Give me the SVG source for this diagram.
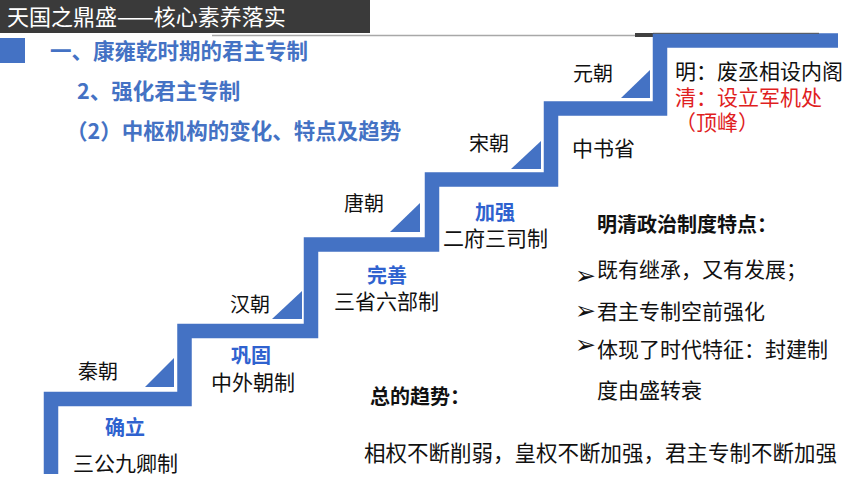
<svg xmlns="http://www.w3.org/2000/svg" width="860" height="484" viewBox="0 0 860 484">
<style>
text{font-family:"Noto Sans CJK SC","Noto Sans",sans-serif;}
.hd{fill:#4472C4;font-weight:bold;font-size:21.5px;}
.era{fill:#111;font-size:20px;}
.stg{fill:#2f62cf;font-weight:bold;font-size:20px;}
.sys{fill:#111;font-size:21px;}
.red{fill:#e01f1f;font-size:21px;}
.blk{fill:#111;font-size:21px;}
.bb{fill:#111;font-weight:bold;font-size:20px;}
.arw{fill:#111;font-family:"DejaVu Sans",sans-serif;font-size:25px;}
.tri{fill:#4472C4;}
</style>
<rect x="0" y="0" width="860" height="484" fill="#ffffff"/>
<g id="header">
<rect x="0" y="0" width="370" height="33" fill="#3a3a3a"/>
<line x1="212" y1="35.5" x2="636" y2="35.5" stroke="#a8a8a8" stroke-width="1.5"/>
<rect x="635" y="33" width="19" height="4" fill="#404040"/>
<text x="7" y="24.5" fill="#ffffff" style="font-size:22px">天国之鼎盛——核心素养落实</text>
</g>
<g id="titles">
<rect x="0" y="38" width="25" height="25" fill="#4472C4"/>
<text class="hd" x="50" y="59">一、康雍乾时期的君主专制</text>
<text class="hd" x="77" y="99">2、强化君主专制</text>
<text class="hd" x="66" y="139">（2）中枢机构的变化、特点及趋势</text>
</g>
<g id="connectors">
<path d="M51,474 V399 H184.5 V331 H311 V244.5 H432 V179.5 H551 V108.5 H660 V40.5 H838" fill="none" stroke="#4472C4" stroke-width="14.5" stroke-linejoin="miter"/>
<line x1="653" y1="33.3" x2="819" y2="33.3" stroke="#505050" stroke-width="1"/>
</g>
<g id="triangles">
<polygon class="tri" points="145,387 174,358 174,387"/>
<polygon class="tri" points="272,319 302,291 302,319"/>
<polygon class="tri" points="390,232 420,203 420,232"/>
<polygon class="tri" points="511,169 541,141 541,169"/>
<polygon class="tri" points="621,98 650,70 650,98"/>
</g>
<g id="qin">
<text class="era" x="78" y="379">秦朝</text>
<text class="stg" x="105" y="435">确立</text>
<text class="sys" x="73" y="471">三公九卿制</text>
</g>
<g id="han">
<text class="era" x="230" y="312">汉朝</text>
<text class="stg" x="231" y="363">巩固</text>
<text class="sys" x="211" y="390">中外朝制</text>
</g>
<g id="tang">
<text class="era" x="344" y="211">唐朝</text>
<text class="stg" x="367" y="283">完善</text>
<text class="sys" x="334" y="309">三省六部制</text>
</g>
<g id="song">
<text class="era" x="469" y="151">宋朝</text>
<text class="stg" x="475" y="220">加强</text>
<text class="sys" x="443" y="246">二府三司制</text>
</g>
<g id="yuan">
<text class="era" x="573" y="81">元朝</text>
<text class="sys" x="572" y="156">中书省</text>
</g>
<g id="mingqing">
<text class="blk" x="675" y="79">明：废丞相设内阁</text>
<text class="red" x="675" y="105">清：设立军机处</text>
<text class="red" x="675" y="130">（顶峰）</text>
</g>
<g id="features">
<text class="bb" x="597" y="232">明清政治制度特点：</text>
<text class="arw" x="575" y="284">➢</text>
<text class="blk" x="597" y="277">既有继承，又有发展；</text>
<text class="arw" x="575" y="319">➢</text>
<text class="blk" x="597" y="319">君主专制空前强化</text>
<text class="arw" x="575" y="353">➢</text>
<text class="blk" x="597" y="357">体现了时代特征：封建制</text>
<text class="blk" x="597" y="398">度由盛转衰</text>
</g>
<g id="trend">
<text class="bb" x="370" y="404">总的趋势：</text>
<text class="blk" x="364" y="461" style="font-size:21.5px">相权不断削弱，皇权不断加强，君主专制不断加强</text>
</g>
</svg>
